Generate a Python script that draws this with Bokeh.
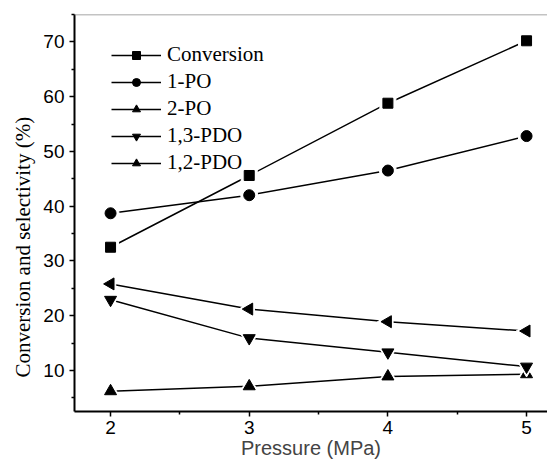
import math
from bokeh.plotting import figure
from bokeh.models import (Legend, LegendItem, Span, Title, FixedTicker,
                          Range1d)
from bokeh.embed import file_html
from bokeh.resources import INLINE

pressure = [2, 3, 4, 5]
conversion = [32.5, 45.6, 58.8, 70.2]
po1 = [38.7, 42.0, 46.5, 52.8]
po2 = [6.2, 7.1, 8.9, 9.3]
pdo13 = [22.9, 15.9, 13.3, 10.7]
pdo12 = [25.8, 21.2, 18.9, 17.2]

series = [
    ("Conversion", conversion, "square", 10),
    ("1-PO", po1, "circle", 11),
    ("2-PO", po2, "triangle", 12),
    ("1,3-PDO", pdo13, "inverted_triangle", 12),
    ("1,2-PDO", pdo12, "triangle", 12),
]

p = figure(width=547, height=462, output_backend="svg", toolbar_location=None,
           x_range=Range1d(1.74, 5.151), y_range=Range1d(2.5, 75),
           min_border_left=74, min_border_right=0, min_border_top=14,
           min_border_bottom=51)
p.grid.visible = False
p.outline_line_color = None
p.background_fill_color = "white"
p.border_fill_color = "white"

for ax in (p.xaxis[0], p.yaxis[0]):
    ax.axis_line_width = 2
    ax.axis_line_color = "black"
    ax.major_tick_line_width = 1.5
    ax.minor_tick_line_width = 1.5
    ax.major_tick_in = 0
    ax.major_tick_out = 5
    ax.minor_tick_in = 0
    ax.minor_tick_out = 3
    ax.major_label_text_font = "Liberation Sans"
    ax.major_label_text_font_size = "19px"
    ax.major_label_text_color = "black"
    ax.major_label_standoff = 5

p.xaxis.major_label_standoff = 4
p.xaxis.ticker = FixedTicker(ticks=[2, 3, 4, 5], minor_ticks=[2.5, 3.5, 4.5])
p.yaxis.ticker = FixedTicker(ticks=[10, 20, 30, 40, 50, 60, 70],
                             minor_ticks=[5, 15, 25, 35, 45, 55, 65, 75])
p.xaxis.axis_label = "Pressure (MPa)"
p.xaxis.axis_label_text_font = "Liberation Sans"
p.xaxis.axis_label_text_font_size = "20px"
p.xaxis.axis_label_text_font_style = "normal"
p.xaxis.axis_label_standoff = 0

# top frame line
p.add_layout(Span(location=75, dimension="width", line_color="#888888",
                  line_width=1.5))

# y title
ytitle = Title(text="Conversion and selectivity (%)", align="left", offset=34,
               text_font="Liberation Serif", text_font_size="21px",
               text_font_style="normal", text_color="black", standoff=11)
p.add_layout(ytitle, "left")

items = []
for name, vals, mk, sz in series:
    ln = p.line(pressure, vals, line_color="black", line_width=1.5)
    angle = math.pi / 2 if name == "1,2-PDO" else 0
    p.scatter(pressure, vals, marker=mk, size=sz + 6, angle=angle,
              fill_color="white", line_color="white")
    bk = p.scatter(pressure, vals, marker=mk, size=sz, angle=angle,
                   fill_color="black", line_color="black")
    items.append(LegendItem(label=name, renderers=[ln, bk]))

legend = Legend(items=items, location=(37, 236), padding=0, margin=0,
                spacing=2, glyph_width=50, glyph_height=20, label_height=20,
                label_standoff=6, label_text_font="Liberation Serif",
                label_text_font_size="21px", label_text_color="black",
                border_line_color=None, background_fill_alpha=0)
p.add_layout(legend)

open("out.html", "w").write(file_html(p, INLINE))
